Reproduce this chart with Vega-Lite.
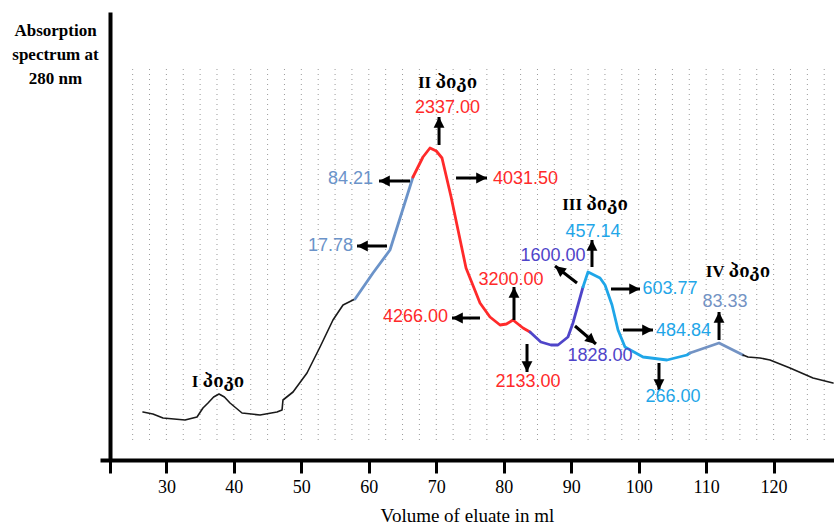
{
  "$schema": "https://vega.github.io/schema/vega-lite/v6.json",
  "width": 734,
  "height": 448,
  "autosize": {"type": "none"},
  "padding": {"left": 100, "top": 12, "right": 0, "bottom": 64},
  "background": "white",
  "config": {"view": {"stroke": null}},
  "datasets": {
    "scan": [
      {"v": 25, "lo": 20, "hi": 395}, {"v": 27.5, "lo": 20, "hi": 395}, {"v": 30, "lo": 20, "hi": 395}, {"v": 32.5, "lo": 20, "hi": 395},
      {"v": 35, "lo": 20, "hi": 395}, {"v": 37.5, "lo": 20, "hi": 395}, {"v": 40, "lo": 20, "hi": 395}, {"v": 42.5, "lo": 20, "hi": 395},
      {"v": 45, "lo": 20, "hi": 395}, {"v": 47.5, "lo": 20, "hi": 395}, {"v": 50, "lo": 20, "hi": 395}, {"v": 52.5, "lo": 20, "hi": 395},
      {"v": 55, "lo": 20, "hi": 395}, {"v": 57.5, "lo": 20, "hi": 395}, {"v": 60, "lo": 20, "hi": 395}, {"v": 62.5, "lo": 20, "hi": 395},
      {"v": 65, "lo": 20, "hi": 395}, {"v": 67.5, "lo": 20, "hi": 395}, {"v": 70, "lo": 20, "hi": 395}, {"v": 72.5, "lo": 20, "hi": 395},
      {"v": 75, "lo": 20, "hi": 395}, {"v": 77.5, "lo": 20, "hi": 395}, {"v": 80, "lo": 20, "hi": 395}, {"v": 82.5, "lo": 20, "hi": 395},
      {"v": 85, "lo": 20, "hi": 395}, {"v": 87.5, "lo": 20, "hi": 395}, {"v": 90, "lo": 20, "hi": 395}, {"v": 92.5, "lo": 20, "hi": 395},
      {"v": 95, "lo": 20, "hi": 395}, {"v": 97.5, "lo": 20, "hi": 395}, {"v": 100, "lo": 20, "hi": 395}, {"v": 102.5, "lo": 20, "hi": 395},
      {"v": 105, "lo": 20, "hi": 395}, {"v": 107.5, "lo": 20, "hi": 395}, {"v": 110, "lo": 20, "hi": 395}, {"v": 112.5, "lo": 20, "hi": 395},
      {"v": 115, "lo": 20, "hi": 395}, {"v": 117.5, "lo": 20, "hi": 395}, {"v": 120, "lo": 20, "hi": 395}, {"v": 122.5, "lo": 20, "hi": 395},
      {"v": 125, "lo": 20, "hi": 395}, {"v": 127.5, "lo": 20, "hi": 395}
    ],
    "curve": [
      {"v": 26.53, "a": 48, "seg": "k1", "grp": "k"},
      {"v": 28.0, "a": 46, "seg": "k1", "grp": "k"},
      {"v": 29.5, "a": 42, "seg": "k1", "grp": "k"},
      {"v": 32.76, "a": 40, "seg": "k1", "grp": "k"},
      {"v": 34.54, "a": 43, "seg": "k1", "grp": "k"},
      {"v": 35.42, "a": 52, "seg": "k1", "grp": "k"},
      {"v": 36.17, "a": 57, "seg": "k1", "grp": "k"},
      {"v": 37.0, "a": 63, "seg": "k1", "grp": "k"},
      {"v": 37.8, "a": 66, "seg": "k1", "grp": "k"},
      {"v": 38.6, "a": 63, "seg": "k1", "grp": "k"},
      {"v": 39.43, "a": 57, "seg": "k1", "grp": "k"},
      {"v": 41.21, "a": 47, "seg": "k1", "grp": "k"},
      {"v": 43.88, "a": 45, "seg": "k1", "grp": "k"},
      {"v": 46.39, "a": 48, "seg": "k1", "grp": "k"},
      {"v": 47.14, "a": 50, "seg": "k1", "grp": "k"},
      {"v": 47.28, "a": 60, "seg": "k1", "grp": "k"},
      {"v": 48.77, "a": 68, "seg": "k1", "grp": "k"},
      {"v": 50.84, "a": 87, "seg": "k1", "grp": "k"},
      {"v": 52.77, "a": 113, "seg": "k1", "grp": "k"},
      {"v": 54.69, "a": 140, "seg": "k1", "grp": "k"},
      {"v": 56.18, "a": 155, "seg": "k1", "grp": "k"},
      {"v": 57.96, "a": 161, "seg": "k1", "grp": "k"},
      {"v": 57.96, "a": 161, "seg": "s1", "grp": "s1"},
      {"v": 60.62, "a": 187, "seg": "s1", "grp": "s1"},
      {"v": 63.14, "a": 210, "seg": "s1", "grp": "s1"},
      {"v": 66.55, "a": 283, "seg": "s1", "grp": "s1"},
      {"v": 66.55, "a": 283, "seg": "s2", "grp": "s2"},
      {"v": 68.03, "a": 303, "seg": "s2", "grp": "s2"},
      {"v": 69.07, "a": 312, "seg": "s2", "grp": "s2"},
      {"v": 70.0, "a": 309, "seg": "s2", "grp": "s2"},
      {"v": 70.85, "a": 302, "seg": "s2", "grp": "s2"},
      {"v": 72.2, "a": 263, "seg": "s2", "grp": "s2"},
      {"v": 74.41, "a": 192, "seg": "s2", "grp": "s2"},
      {"v": 76.48, "a": 157, "seg": "s2", "grp": "s2"},
      {"v": 77.96, "a": 143, "seg": "s2", "grp": "s2"},
      {"v": 79.45, "a": 135, "seg": "s2", "grp": "s2"},
      {"v": 80.4, "a": 136, "seg": "s2", "grp": "s2"},
      {"v": 81.37, "a": 140, "seg": "s2", "grp": "s2"},
      {"v": 82.86, "a": 132, "seg": "s2", "grp": "s2"},
      {"v": 83.89, "a": 128, "seg": "s2", "grp": "s2"},
      {"v": 83.89, "a": 128, "seg": "s3", "grp": "s3"},
      {"v": 85.5, "a": 118, "seg": "s3", "grp": "s3"},
      {"v": 87.0, "a": 115, "seg": "s3", "grp": "s3"},
      {"v": 88.04, "a": 115, "seg": "s3", "grp": "s3"},
      {"v": 89.52, "a": 123, "seg": "s3", "grp": "s3"},
      {"v": 90.26, "a": 137, "seg": "s3", "grp": "s3"},
      {"v": 91.75, "a": 173, "seg": "s3", "grp": "s3"},
      {"v": 91.75, "a": 173, "seg": "s4", "grp": "s4"},
      {"v": 92.49, "a": 188, "seg": "s4", "grp": "s4"},
      {"v": 94.27, "a": 182, "seg": "s4", "grp": "s4"},
      {"v": 95.01, "a": 175, "seg": "s4", "grp": "s4"},
      {"v": 96.05, "a": 155, "seg": "s4", "grp": "s4"},
      {"v": 96.94, "a": 130, "seg": "s4", "grp": "s4"},
      {"v": 97.97, "a": 113, "seg": "s4", "grp": "s4"},
      {"v": 100.64, "a": 103, "seg": "s4", "grp": "s4"},
      {"v": 104.2, "a": 100, "seg": "s4", "grp": "s4"},
      {"v": 107.16, "a": 105, "seg": "s4", "grp": "s4"},
      {"v": 107.6, "a": 107, "seg": "s4", "grp": "s4"},
      {"v": 107.6, "a": 107, "seg": "s5", "grp": "s5"},
      {"v": 111.91, "a": 117, "seg": "s5", "grp": "s5"},
      {"v": 115.46, "a": 105, "seg": "s5", "grp": "s5"},
      {"v": 115.46, "a": 105, "seg": "k2", "grp": "k"},
      {"v": 116.2, "a": 103, "seg": "k2", "grp": "k"},
      {"v": 117.98, "a": 102, "seg": "k2", "grp": "k"},
      {"v": 119.46, "a": 100, "seg": "k2", "grp": "k"},
      {"v": 122.43, "a": 92, "seg": "k2", "grp": "k"},
      {"v": 125.84, "a": 82, "seg": "k2", "grp": "k"},
      {"v": 128.8, "a": 77, "seg": "k2", "grp": "k"}
    ],
    "arrows": [
      {"v": 66.11, "a": 279, "v2": 61.51, "a2": 279, "dir": "left"},
      {"v": 62.7, "a": 214, "v2": 58.25, "a2": 214, "dir": "left"},
      {"v": 70.41, "a": 315, "v2": 70.41, "a2": 343, "dir": "up"},
      {"v": 72.93, "a": 282, "v2": 77.52, "a2": 282, "dir": "right"},
      {"v": 81.52, "a": 140, "v2": 81.52, "a2": 173, "dir": "up"},
      {"v": 76.48, "a": 142, "v2": 72.33, "a2": 142, "dir": "left"},
      {"v": 83.45, "a": 116, "v2": 83.45, "a2": 88, "dir": "down"},
      {"v": 90.86, "a": 177, "v2": 87.6, "a2": 194, "dir": "upleft"},
      {"v": 93.08, "a": 193, "v2": 93.08, "a2": 220, "dir": "up"},
      {"v": 90.56, "a": 134, "v2": 93.67, "a2": 116, "dir": "downright"},
      {"v": 95.9, "a": 171, "v2": 100.2, "a2": 171, "dir": "right"},
      {"v": 97.68, "a": 130, "v2": 102.12, "a2": 130, "dir": "right"},
      {"v": 103.01, "a": 97, "v2": 103.01, "a2": 70, "dir": "down"},
      {"v": 111.91, "a": 120, "v2": 111.91, "a2": 148, "dir": "up"}
    ],
    "values": [
      {"v": 57.29, "a": 281, "text": "84.21", "grp": "s1"},
      {"v": 54.32, "a": 214, "text": "17.78", "grp": "s1"},
      {"v": 71.67, "a": 352, "text": "2337.00", "grp": "s2"},
      {"v": 83.23, "a": 281, "text": "4031.50", "grp": "s2"},
      {"v": 81.08, "a": 180, "text": "3200.00", "grp": "s2"},
      {"v": 66.92, "a": 143, "text": "4266.00", "grp": "s2"},
      {"v": 83.6, "a": 78, "text": "2133.00", "grp": "s2"},
      {"v": 87.3, "a": 204, "text": "1600.00", "grp": "s3"},
      {"v": 94.27, "a": 104, "text": "1828.00", "grp": "s3"},
      {"v": 93.23, "a": 228, "text": "457.14", "grp": "s4"},
      {"v": 104.64, "a": 171, "text": "603.77", "grp": "s4"},
      {"v": 106.64, "a": 129, "text": "484.84", "grp": "s4"},
      {"v": 105.09, "a": 63, "text": "266.00", "grp": "s4"},
      {"v": 112.79, "a": 158, "text": "83.33", "grp": "s5"}
    ],
    "peaks": [
      {"v": 37.65, "a": 78, "text": "I პიკი"},
      {"v": 71.67, "a": 377, "text": "II პიკი"},
      {"v": 93.53, "a": 255, "text": "III პიკი"},
      {"v": 114.72, "a": 188, "text": "IV პიკი"}
    ]
  },
  "encoding": {
    "x": {
      "field": "v", "type": "quantitative",
      "scale": {"domain": [20.16, 128.95], "nice": false, "zero": false},
      "axis": {
        "values": [21.64, 30, 40, 50, 60, 70, 80, 90, 100, 110, 120],
        "labelExpr": "datum.value < 25 ? '' : datum.label",
        "grid": false,
        "domainColor": "black", "domainWidth": 4,
        "tickColor": "black", "tickWidth": 3, "tickSize": 13,
        "labelFont": "Liberation Serif", "labelFontSize": 18, "labelColor": "black", "labelPadding": 5,
        "title": "Volume of eluate in ml",
        "titleFont": "Liberation Serif", "titleFontSize": 19, "titleFontWeight": "normal", "titleColor": "black", "titlePadding": 10
      }
    },
    "y": {
      "field": "a", "type": "quantitative",
      "scale": {"domain": [0, 448], "nice": false, "zero": false},
      "axis": {
        "offset": -10,
        "grid": false, "ticks": false, "labels": false,
        "domainColor": "black", "domainWidth": 4,
        "title": ["Absorption", "spectrum at", "280 nm"],
        "titleAngle": 0, "titleAlign": "center", "titleBaseline": "top",
        "titleX": -55, "titleY": 10, "titleLineHeight": 24,
        "titleFont": "Liberation Serif", "titleFontSize": 17, "titleFontWeight": "bold", "titleColor": "black"
      }
    }
  },
  "layer": [
    {
      "data": {"name": "scan"},
      "mark": {"type": "rule", "color": "#9a9a9a", "strokeWidth": 1, "strokeDash": [1, 4]},
      "encoding": {
        "x": {"field": "v", "type": "quantitative"},
        "y": {"field": "lo", "type": "quantitative"},
        "y2": {"field": "hi"}
      }
    },
    {
      "data": {"name": "curve"},
      "mark": {"type": "line", "strokeJoin": "round", "strokeCap": "round"},
      "encoding": {
        "color": {
          "field": "grp", "type": "nominal",
          "scale": {"domain": ["k", "s1", "s2", "s3", "s4", "s5"], "range": ["#1a1a1a", "#6b93c9", "#ff2a2a", "#4f45c9", "#1fa6e8", "#7393c4"]},
          "legend": null
        },
        "detail": {"field": "seg"},
        "strokeWidth": {"condition": {"test": "datum.grp === 'k'", "value": 1.6}, "value": 2.8}
      }
    },
    {
      "data": {"name": "arrows"},
      "mark": {"type": "rule", "color": "black", "strokeWidth": 3},
      "encoding": {
        "x2": {"field": "v2"},
        "y2": {"field": "a2"}
      }
    },
    {
      "data": {"name": "arrows"},
      "transform": [{"filter": "datum.dir === 'up'"}],
      "mark": {"type": "point", "shape": "M0,0L0.9,1.8L-0.9,1.8Z", "filled": true, "color": "black", "opacity": 1, "size": 144, "strokeWidth": 0, "angle": 0},
      "encoding": {"x": {"field": "v2", "type": "quantitative"}, "y": {"field": "a2", "type": "quantitative"}}
    },
    {
      "data": {"name": "arrows"},
      "transform": [{"filter": "datum.dir === 'right'"}],
      "mark": {"type": "point", "shape": "M0,0L0.9,1.8L-0.9,1.8Z", "filled": true, "color": "black", "opacity": 1, "size": 144, "strokeWidth": 0, "angle": 90},
      "encoding": {"x": {"field": "v2", "type": "quantitative"}, "y": {"field": "a2", "type": "quantitative"}}
    },
    {
      "data": {"name": "arrows"},
      "transform": [{"filter": "datum.dir === 'down'"}],
      "mark": {"type": "point", "shape": "M0,0L0.9,1.8L-0.9,1.8Z", "filled": true, "color": "black", "opacity": 1, "size": 144, "strokeWidth": 0, "angle": 180},
      "encoding": {"x": {"field": "v2", "type": "quantitative"}, "y": {"field": "a2", "type": "quantitative"}}
    },
    {
      "data": {"name": "arrows"},
      "transform": [{"filter": "datum.dir === 'left'"}],
      "mark": {"type": "point", "shape": "M0,0L0.9,1.8L-0.9,1.8Z", "filled": true, "color": "black", "opacity": 1, "size": 144, "strokeWidth": 0, "angle": 270},
      "encoding": {"x": {"field": "v2", "type": "quantitative"}, "y": {"field": "a2", "type": "quantitative"}}
    },
    {
      "data": {"name": "arrows"},
      "transform": [{"filter": "datum.dir === 'upleft'"}],
      "mark": {"type": "point", "shape": "M0,0L0.9,1.8L-0.9,1.8Z", "filled": true, "color": "black", "opacity": 1, "size": 144, "strokeWidth": 0, "angle": 308},
      "encoding": {"x": {"field": "v2", "type": "quantitative"}, "y": {"field": "a2", "type": "quantitative"}}
    },
    {
      "data": {"name": "arrows"},
      "transform": [{"filter": "datum.dir === 'downright'"}],
      "mark": {"type": "point", "shape": "M0,0L0.9,1.8L-0.9,1.8Z", "filled": true, "color": "black", "opacity": 1, "size": 144, "strokeWidth": 0, "angle": 131},
      "encoding": {"x": {"field": "v2", "type": "quantitative"}, "y": {"field": "a2", "type": "quantitative"}}
    },
    {
      "data": {"name": "values"},
      "mark": {"type": "text", "font": "Liberation Sans", "fontSize": 18, "align": "center", "baseline": "middle"},
      "encoding": {
        "text": {"field": "text"},
        "color": {"field": "grp", "type": "nominal", "legend": null}
      }
    },
    {
      "data": {"name": "peaks"},
      "mark": {"type": "text", "font": "Liberation Serif, DejaVu Serif", "fontSize": 17, "fontWeight": "bold", "align": "center", "baseline": "middle", "color": "black"},
      "encoding": {
        "text": {"field": "text"}
      }
    }
  ]
}
